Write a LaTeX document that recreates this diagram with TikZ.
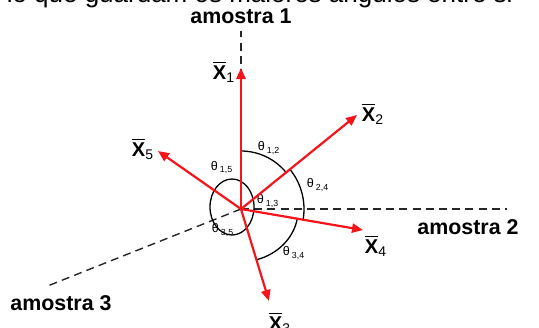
\documentclass[tikz,border=0pt]{standalone}
\usepackage{fontspec}
\setmainfont{Liberation Sans}
\usetikzlibrary{arrows.meta}
\definecolor{vred}{HTML}{F4141A}
\tikzset{
  vec/.style={-{Triangle[length=5.5pt,width=4.6pt]},draw=vred,line width=1.1pt},
  axis/.style={draw=black!85,dash pattern=on 4pt off 2.6pt,line width=0.7pt},
  ang/.style={draw=black,line width=0.65pt},
  tlab/.style={font=\fontsize{6.3}{7}\selectfont,inner sep=0pt},
  vlab/.style={font=\fontsize{10}{12}\selectfont,inner sep=0pt},
  alab/.style={font=\fontsize{10.7}{12}\selectfont\bfseries,inner sep=0pt},
}
\newcommand{\vbar}[1]{$\overline{\mbox{\bfseries X}}$\textsubscript{#1}}
\newcommand{\tht}[1]{θ\,\textsubscript{#1}}

\begin{document}
\begin{tikzpicture}[x=0.5pt,y=0.5pt]
\useasboundingbox (-241,-118) rectangle (298,209);
\clip (-241,-118) rectangle (298,209);
% text cut off from the page above
\node[font=\fontsize{13}{15}\selectfont,inner sep=0pt,anchor=base east] (top) at (272,206.5) {lo que guardam os maiores ângulos entre si};
\coordinate (O) at (0,0);
% sample axes
\coordinate (a1) at (0,178);
\coordinate (a2) at (266,0);
\coordinate (a3) at (-196,-78);
\draw[axis] (O) -- (a1);
\draw[axis] (O) -- (a2);
\draw[axis] (O) -- (a3);
\node[alab] (am1) at (0,193) {amostra 1};
\node[alab] (am2) at (227,-18) {amostra 2};
\node[alab] (am3) at (-180,-94) {amostra 3};
% angles
\draw[ang] (O) ++(90:58) arc[start angle=90,end angle=39,radius=58];
\draw[ang] (O) ++(39:63) arc[start angle=39,end angle=-10,radius=63];
\draw[ang] (O) ++(-10:57.1) arc[start angle=-10,end angle=-73,x radius=58,y radius=52];
\draw[ang] (-9,2) ellipse[x radius=22,y radius=28];
\node[tlab] (t12) at (28,61) {\tht{1,2}};
\node[tlab] (t24) at (77,24) {\tht{2,4}};
\node[tlab] (t34) at (53,-44) {\tht{3,4}};
\node[tlab] (t15) at (-19,42) {\tht{1,5}};
\node[tlab] (t13) at (27,8) {\tht{1,3}};
\node[tlab] (t35) at (-18,-21) {\tht{3,5}};
% mean vectors
\coordinate (x1) at (0,141);
\coordinate (x2) at (116,94);
\coordinate (x3) at (28,-92);
\coordinate (x4) at (122,-21);
\coordinate (x5) at (-83,58);
\foreach \v in {1,...,5}
  \draw[vec] (O) -- (x\v);
\node[vlab] (v1) at (-17,137) {\vbar{1}};
\node[vlab] (v2) at (132,95) {\vbar{2}};
\node[vlab] (v3) at (39,-114) {\vbar{3}};
\node[vlab] (v4) at (135,-37) {\vbar{4}};
\node[vlab] (v5) at (-98,60) {\vbar{5}};
\end{tikzpicture}
\end{document}
